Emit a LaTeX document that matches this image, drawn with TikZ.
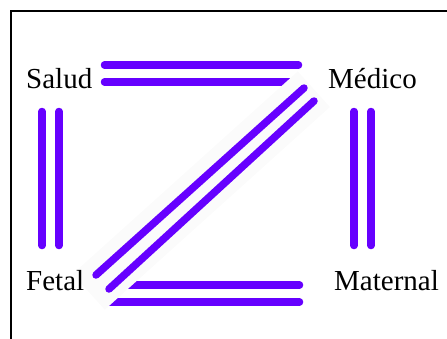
\documentclass[tikz,border=0pt]{standalone}
\usepackage{fontspec}
\setmainfont{Liberation Serif}
\definecolor{zv}{RGB}{102,0,255}
\begin{document}
\begin{tikzpicture}[x=1pt,y=-1pt,
  conn/.style={draw=zv,line width=7.5pt,line cap=round},
  halo/.style={fill=black!1.5,draw=none},
  lbl/.style={anchor=base west,inner sep=0pt,font=\fontsize{29}{34}\selectfont}]
\useasboundingbox (0,0) rectangle (447,338);
\draw[line width=2pt] (11,345) -- (11,11) -- (455,11);
% end points
\coordinate (t1a) at (104.5,65); \coordinate (t1b) at (298.5,65);
\coordinate (t2a) at (104.5,82); \coordinate (t2b) at (300,82);
\coordinate (b1a) at (120,285); \coordinate (b1b) at (299.5,285);
\coordinate (b2a) at (105,302); \coordinate (b2b) at (299.5,302);
\coordinate (l1a) at (42,111.5); \coordinate (l1b) at (42,245.5);
\coordinate (l2a) at (59,111.5); \coordinate (l2b) at (59,245.5);
\coordinate (r1a) at (354,111.5); \coordinate (r1b) at (354,245.5);
\coordinate (r2a) at (371,111.5); \coordinate (r2b) at (371,245.5);
\coordinate (da) at (96,275); \coordinate (db) at (304,88);
\coordinate (ea) at (109,289); \coordinate (eb) at (314,101);
\coordinate (h1) at (72.7,274.0); \coordinate (h2) at (104.8,309.7);
\coordinate (h3) at (329.9,107.0); \coordinate (h4) at (297.8,71.4);
% horizontal pairs
\draw[conn] (t1a) -- (t1b);
\draw[conn] (t2a) -- (t2b);
\draw[conn] (b1a) -- (b1b);
\draw[conn] (b2a) -- (b2b);
% halo of the diagonal
\fill[halo] (h1) -- (h2) -- (h3) -- (h4) -- cycle;
% diagonal pair
\draw[conn] (da) -- (db);
\draw[conn] (ea) -- (eb);
% vertical pairs
\draw[conn] (l1a) -- (l1b);
\draw[conn] (l2a) -- (l2b);
\draw[conn] (r1a) -- (r1b);
\draw[conn] (r2a) -- (r2b);
% labels
\node[lbl] (salud) at (26,88) {Salud};
\node[lbl] (medico) at (328,88) {Médico};
\node[lbl] (fetal) at (26,290) {Fetal};
\node[lbl] (maternal) at (334,290) {Maternal};
\end{tikzpicture}
\end{document}
